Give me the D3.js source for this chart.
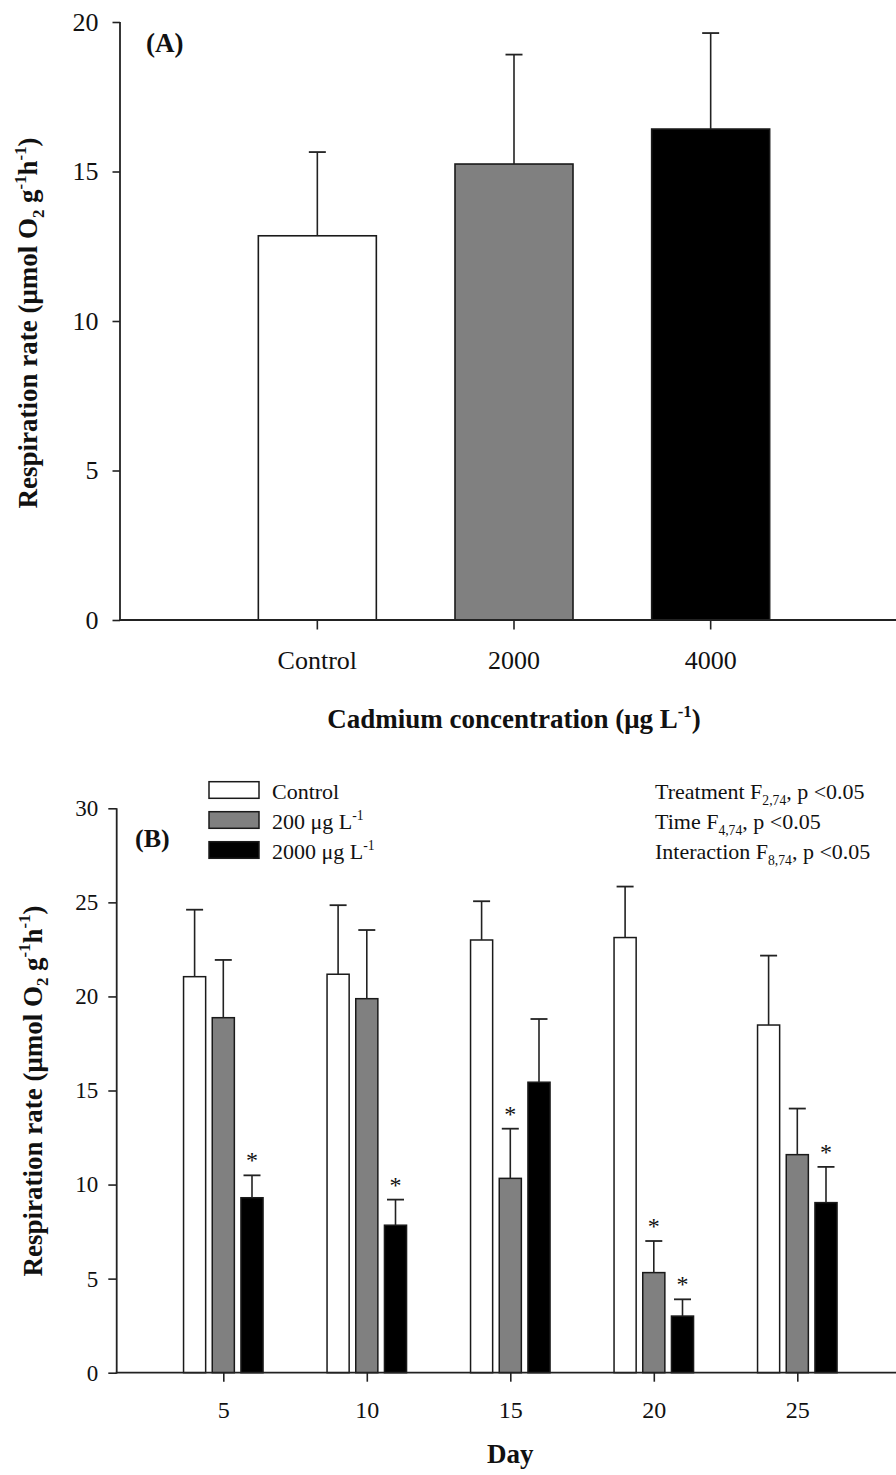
<!DOCTYPE html>
<html>
<head>
<meta charset="utf-8">
<script src="https://cdn.jsdelivr.net/npm/d3@7"></script>
<style>
  html, body { margin: 0; padding: 0; background: #fff; }
  svg { display: block; }
  text { font-family: "Liberation Serif", "Times New Roman", serif; fill: #111; }
</style>
</head>
<body>
<svg id="chart" width="896" height="1475"></svg>
<script>
// ---------- Panel A data ----------
const topCategories = ["Control", "2000", "4000"];
const topMeans = [12.85, 15.25, 16.42];
const topErrors = [2.80, 3.66, 3.21];
const topFills = ["#ffffff", "#808080", "#000000"];
const topYTicks = [0, 5, 10, 15, 20];

// ---------- Panel B data ----------
const days = [5, 10, 15, 20, 25];
const seriesNames = ["Control", "200 \u03bcg L", "2000 \u03bcg L"];
const controlMeans = [21.05, 21.18, 23.00, 23.13, 18.48];
const controlErr   = [3.56, 3.67, 2.06, 2.71, 3.69];
const cd200Means   = [18.87, 19.88, 10.33, 5.32, 11.59];
const cd200Err     = [3.07, 3.65, 2.64, 1.68, 2.45];
const cd2000Means  = [9.30, 7.84, 15.44, 3.01, 9.04];
const cd2000Err    = [1.19, 1.36, 3.36, 0.89, 1.90];
const controlStar  = [false, false, false, false, false];
const cd200Star    = [false, false, true, true, false];
const cd2000Star   = [true, true, false, true, true];
const bottomYTicks = [0, 5, 10, 15, 20, 25, 30];
const statLines = [
  [{t: "Treatment F"}, {t: "2,74", s: "sub"}, {t: ", p <0.05"}],
  [{t: "Time F"}, {t: "4,74", s: "sub"}, {t: ", p <0.05"}],
  [{t: "Interaction F"}, {t: "8,74", s: "sub"}, {t: ", p <0.05"}]
];

const svg = d3.select("#chart");
svg.append("rect").attr("width", 896).attr("height", 1475).attr("fill", "#fff");

function rich(textSel, parts, size) {
  let shift = 0;
  parts.forEach(p => {
    const ts = textSel.append("tspan").text(p.t);
    let target = 0;
    if (p.s === "sup") target = -0.42 * size;
    if (p.s === "sub") target = 0.25 * size;
    if (p.s) ts.attr("font-size", size * 0.62);
    ts.attr("dy", target - shift);
    shift = target;
  });
  return textSel;
}

const yTitleParts = [
  {t: "Respiration rate (\u03bcmol O"}, {t: "2", s: "sub"}, {t: " g"},
  {t: "-1", s: "sup"}, {t: "h"}, {t: "-1", s: "sup"}, {t: ")"}
];

// ================= Panel A =================
const A = {left: 120, right: 896, y0: 620, y1: 22};
const xA = d3.scaleBand().domain(topCategories).range([219, 809])
  .paddingInner(0.4).paddingOuter(0.2);
const yA = d3.scaleLinear().domain([0, 20]).range([A.y0, A.y1]);

const gA = svg.append("g");
// bars
gA.selectAll("rect.bar").data(topCategories).enter().append("rect")
  .attr("x", d => xA(d)).attr("width", xA.bandwidth())
  .attr("y", (d, i) => yA(topMeans[i]))
  .attr("height", (d, i) => yA(0) - yA(topMeans[i]))
  .attr("fill", (d, i) => topFills[i])
  .attr("stroke", "#1a1a1a").attr("stroke-width", 1.6);
// error bars
topCategories.forEach((c, i) => {
  const cx = xA(c) + xA.bandwidth() / 2;
  gA.append("line").attr("x1", cx).attr("x2", cx)
    .attr("y1", yA(topMeans[i])).attr("y2", yA(topMeans[i] + topErrors[i]))
    .attr("stroke", "#222").attr("stroke-width", 1.6);
  gA.append("line").attr("x1", cx - 8.5).attr("x2", cx + 8.5)
    .attr("y1", yA(topMeans[i] + topErrors[i])).attr("y2", yA(topMeans[i] + topErrors[i]))
    .attr("stroke", "#222").attr("stroke-width", 1.8);
});
// axes
const yAxisA = d3.axisLeft(yA).tickValues(topYTicks).tickSize(7.5).tickPadding(14).tickSizeOuter(0);
const gyA = gA.append("g").attr("transform", `translate(${A.left},0)`).call(yAxisA);
gyA.select(".domain").remove();
gyA.selectAll("text").attr("font-size", 26).attr("font-family", "Liberation Serif").attr("fill", "#111");
gyA.selectAll("line").attr("stroke", "#222").attr("stroke-width", 1.6);
gA.append("line").attr("x1", A.left).attr("x2", A.left).attr("y1", A.y1).attr("y2", A.y0 + 0.8)
  .attr("stroke", "#222").attr("stroke-width", 1.8);

const xAxisA = d3.axisBottom(xA).tickSize(9.5).tickSizeOuter(0);
const gxA = gA.append("g").attr("transform", `translate(0,${A.y0})`).call(xAxisA);
gxA.select(".domain").remove();
gxA.selectAll("text").attr("font-size", 26).attr("font-family", "Liberation Serif")
  .attr("fill", "#111").attr("dy", null).attr("y", 49);
gxA.selectAll("line").attr("stroke", "#222").attr("stroke-width", 1.6);
gA.append("line").attr("x1", A.left - 0.9).attr("x2", A.right).attr("y1", A.y0).attr("y2", A.y0)
  .attr("stroke", "#222").attr("stroke-width", 1.8);

// titles
rich(gA.append("text").attr("x", 514).attr("y", 728).attr("text-anchor", "middle")
  .attr("font-size", 27).attr("font-weight", "bold"),
  [{t: "Cadmium concentration (\u03bcg L"}, {t: "-1", s: "sup"}, {t: ")"}], 27);
rich(gA.append("text").attr("transform", "translate(37,323) rotate(-90)")
  .attr("text-anchor", "middle").attr("font-size", 27).attr("font-weight", "bold"),
  yTitleParts, 27);
gA.append("text").attr("x", 146).attr("y", 52).attr("font-size", 27)
  .attr("font-weight", "bold").text("(A)");

// ================= Panel B =================
const B = {left: 116.7, right: 896, y0: 1372.7, y1: 808.3};
const xB = d3.scaleLinear().domain([0, 30]).range([79.8, 940.8]);
const yB = d3.scaleLinear().domain([0, 30]).range([B.y0, B.y1]);
const barW = xB(0.77) - xB(0);

const seriesMeans = [controlMeans, cd200Means, cd2000Means];
const seriesErr = [controlErr, cd200Err, cd2000Err];
const seriesStar = [controlStar, cd200Star, cd2000Star];
const seriesFill = ["#ffffff", "#808080", "#000000"];
const offsets = [-1, 0, 1];

const gB = svg.append("g");
seriesMeans.forEach((means, s) => {
  const rows = days.map((d, i) => ({day: d, v: means[i], e: seriesErr[s][i], star: seriesStar[s][i]}));
  gB.selectAll(`rect.s${s}`).data(rows).enter().append("rect")
    .attr("x", r => xB(r.day + offsets[s]) - barW / 2).attr("width", barW)
    .attr("y", r => yB(r.v)).attr("height", r => yB(0) - yB(r.v))
    .attr("fill", seriesFill[s]).attr("stroke", "#1a1a1a").attr("stroke-width", 1.5);
  rows.forEach(r => {
    const cx = xB(r.day + offsets[s]);
    const top = yB(r.v + r.e);
    gB.append("line").attr("x1", cx).attr("x2", cx).attr("y1", yB(r.v)).attr("y2", top)
      .attr("stroke", "#222").attr("stroke-width", 1.6);
    gB.append("line").attr("x1", cx - 8.5).attr("x2", cx + 8.5).attr("y1", top).attr("y2", top)
      .attr("stroke", "#222").attr("stroke-width", 1.8);
    if (r.star) {
      gB.append("text").attr("x", cx).attr("y", top - 7).attr("text-anchor", "middle")
        .attr("font-size", 24).text("*");
    }
  });
});

const yAxisB = d3.axisLeft(yB).tickValues(bottomYTicks).tickSize(8.4).tickPadding(10).tickSizeOuter(0);
const gyB = gB.append("g").attr("transform", `translate(${B.left},0)`).call(yAxisB);
gyB.select(".domain").remove();
gyB.selectAll("text").attr("font-size", 23).attr("font-family", "Liberation Serif").attr("fill", "#111");
gyB.selectAll("line").attr("stroke", "#222").attr("stroke-width", 1.6);
gB.append("line").attr("x1", B.left).attr("x2", B.left).attr("y1", B.y1).attr("y2", B.y0 + 0.8)
  .attr("stroke", "#222").attr("stroke-width", 1.8);

const xAxisB = d3.axisBottom(xB).tickValues(days).tickSize(9).tickSizeOuter(0);
const gxB = gB.append("g").attr("transform", `translate(0,${B.y0})`).call(xAxisB);
gxB.select(".domain").remove();
gxB.selectAll("text").attr("font-size", 24).attr("font-family", "Liberation Serif")
  .attr("fill", "#111").attr("dy", null).attr("y", 45);
gxB.selectAll("line").attr("stroke", "#222").attr("stroke-width", 1.6);
gB.append("line").attr("x1", B.left - 0.9).attr("x2", B.right).attr("y1", B.y0).attr("y2", B.y0)
  .attr("stroke", "#222").attr("stroke-width", 1.8);

gB.append("text").attr("x", xB(15)).attr("y", 1463).attr("text-anchor", "middle")
  .attr("font-size", 27).attr("font-weight", "bold").text("Day");
rich(gB.append("text").attr("transform", "translate(41.5,1091) rotate(-90)")
  .attr("text-anchor", "middle").attr("font-size", 27).attr("font-weight", "bold"),
  yTitleParts, 27);
gB.append("text").attr("x", 135).attr("y", 847).attr("font-size", 26)
  .attr("font-weight", "bold").text("(B)");

// legend
const legendRows = [
  [{t: "Control"}],
  [{t: "200 \u03bcg L"}, {t: "-1", s: "sup"}],
  [{t: "2000 \u03bcg L"}, {t: "-1", s: "sup"}]
];
const legendY = d3.scalePoint().domain(seriesNames).range([790, 850]);
seriesNames.forEach((n, i) => {
  gB.append("rect").attr("x", 209).attr("y", legendY(n) - 8.3).attr("width", 50).attr("height", 16.6)
    .attr("fill", seriesFill[i]).attr("stroke", "#1a1a1a").attr("stroke-width", 1.5);
  rich(gB.append("text").attr("x", 272).attr("y", legendY(n) + 9).attr("font-size", 22),
    legendRows[i], 22);
});

// stats annotation
statLines.forEach((parts, i) => {
  rich(gB.append("text").attr("x", 655).attr("y", 799 + i * 30).attr("font-size", 22), parts, 22);
});
</script>
</body>
</html>
